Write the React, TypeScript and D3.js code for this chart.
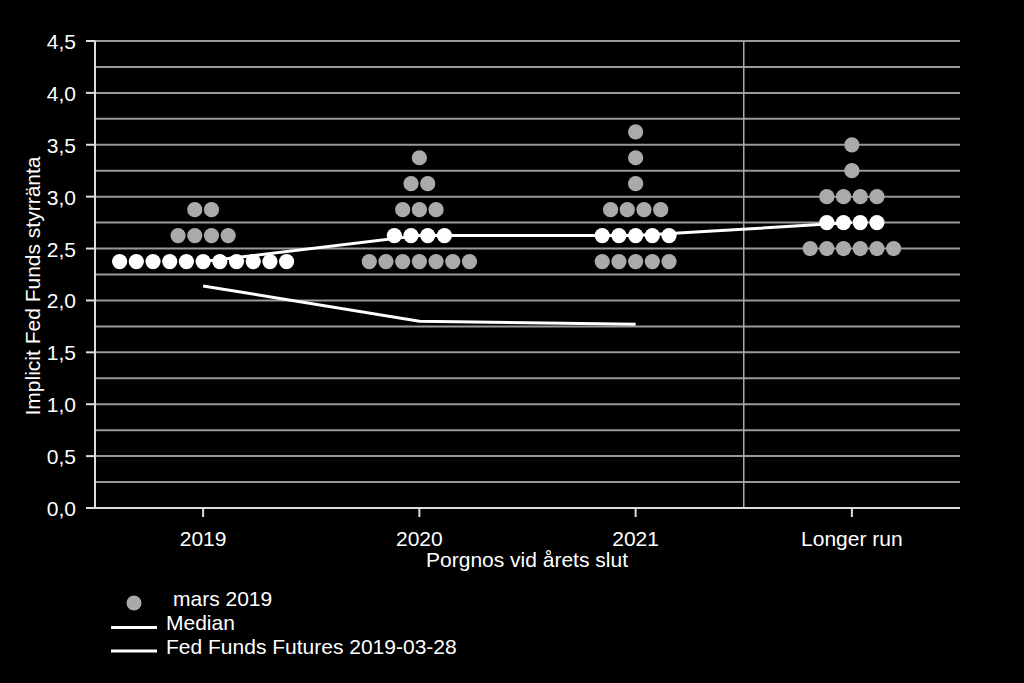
import React from "react";
import * as d3 from "d3";

const categories = ["2019", "2020", "2021", "Longer run"];
// dot rows: [category, rate, count, isMedianRow]
const dotRows: [string, number, number, boolean][] = [
  ["2019", 2.375, 11, true],
  ["2019", 2.625, 4, false],
  ["2019", 2.875, 2, false],
  ["2020", 2.375, 7, false],
  ["2020", 2.625, 4, true],
  ["2020", 2.875, 3, false],
  ["2020", 3.125, 2, false],
  ["2020", 3.375, 1, false],
  ["2021", 2.375, 5, false],
  ["2021", 2.625, 5, true],
  ["2021", 2.875, 4, false],
  ["2021", 3.125, 1, false],
  ["2021", 3.375, 1, false],
  ["2021", 3.625, 1, false],
  ["Longer run", 2.5, 6, false],
  ["Longer run", 2.75, 4, true],
  ["Longer run", 3.0, 4, false],
  ["Longer run", 3.25, 1, false],
  ["Longer run", 3.5, 1, false],
];
const medianValues = [2.375, 2.625, 2.625, 2.75];
const futuresCats = ["2019", "2020", "2021"];
const futuresValues = [2.14, 1.8, 1.77];
const yTicks = [0, 0.5, 1, 1.5, 2, 2.5, 3, 3.5, 4, 4.5];
const gridValues = d3.range(0, 4.5001, 0.25);

export default function App() {
  const W = 1024, H = 683;
  const left = 95, right = 960, top = 41, bottom = 508;
  const x = d3.scaleBand<string>().domain(categories).range([left, right]);
  const cx = (c: string) => (x(c) as number) + x.bandwidth() / 2;
  const y = d3.scaleLinear().domain([0, 4.5]).range([bottom, top]);
  const spacing = 16.7, r = 7.6;
  const fmt = (v: number) => v.toFixed(1).replace(".", ",");
  const line = d3.line<[number, number]>().x((d) => d[0]).y((d) => d[1]);
  const medianPts: [number, number][] = categories.map((c, i) => [cx(c), y(medianValues[i])]);
  const futPts: [number, number][] = futuresCats.map((c, i) => [cx(c), y(futuresValues[i])]);
  const font = "'Liberation Sans', Arial, sans-serif";
  const fs = 21;

  const dots: { x: number; y: number; white: boolean; key: string }[] = [];
  dotRows.forEach(([c, v, n, med], ri) => {
    for (let i = 0; i < n; i++) {
      dots.push({ x: cx(c) + (i - (n - 1) / 2) * spacing, y: y(v), white: med, key: `${ri}-${i}` });
    }
  });

  return (
    <svg width={W} height={H} style={{ position: "absolute", left: 0, top: 0, background: "#000" }}>
      <rect x={0} y={0} width={W} height={H} fill="#000" />
      {gridValues.filter((v) => v > 0).map((v) => (
        <line key={v} x1={left} x2={right} y1={y(v)} y2={y(v)} stroke="#999" strokeWidth={2} />
      ))}
      <line x1={(x("Longer run") as number)} x2={(x("Longer run") as number)} y1={top} y2={bottom} stroke="#aaa" strokeWidth={1.5} />
      <line x1={left} x2={left} y1={top} y2={bottom} stroke="#ddd" strokeWidth={2} />
      <line x1={left} x2={right} y1={bottom} y2={bottom} stroke="#ddd" strokeWidth={2} />
      {yTicks.map((t) => (
        <g key={t}>
          <line x1={left - 9} x2={left} y1={y(t)} y2={y(t)} stroke="#ddd" strokeWidth={2} />
          <text x={76} y={y(t) + 8} textAnchor="end" fill="#fff" fontFamily={font} fontSize={fs}>{fmt(t)}</text>
        </g>
      ))}
      {categories.map((c) => (
        <g key={c}>
          <line x1={cx(c)} x2={cx(c)} y1={bottom} y2={bottom + 9} stroke="#ddd" strokeWidth={2} />
          <text x={cx(c)} y={546} textAnchor="middle" fill="#fff" fontFamily={font} fontSize={fs}>{c}</text>
        </g>
      ))}
      <text x={527} y={567} textAnchor="middle" fill="#fff" fontFamily={font} fontSize={fs}>Porgnos vid årets slut</text>
      <text transform={`translate(40,${286}) rotate(-90)`} textAnchor="middle" fill="#fff" fontFamily={font} fontSize={fs}>Implicit Fed Funds styrränta</text>
      <path d={line(medianPts) || ""} fill="none" stroke="#fff" strokeWidth={3} />
      <path d={line(futPts) || ""} fill="none" stroke="#fff" strokeWidth={3} />
      {dots.map((d) => (
        <circle key={d.key} cx={d.x} cy={d.y} r={r} fill={d.white ? "#fff" : "#aaaaaa"} />
      ))}
      <circle cx={134} cy={603} r={7.5} fill="#aaaaaa" />
      <text x={173} y={606} fill="#fff" fontFamily={font} fontSize={fs}>mars 2019</text>
      <line x1={111} x2={157} y1={627.5} y2={627.5} stroke="#fff" strokeWidth={3} />
      <text x={166} y={630} fill="#fff" fontFamily={font} fontSize={fs}>Median</text>
      <line x1={111} x2={157} y1={651} y2={651} stroke="#fff" strokeWidth={3} />
      <text x={166} y={654} fill="#fff" fontFamily={font} fontSize={fs}>Fed Funds Futures 2019-03-28</text>
    </svg>
  );
}
